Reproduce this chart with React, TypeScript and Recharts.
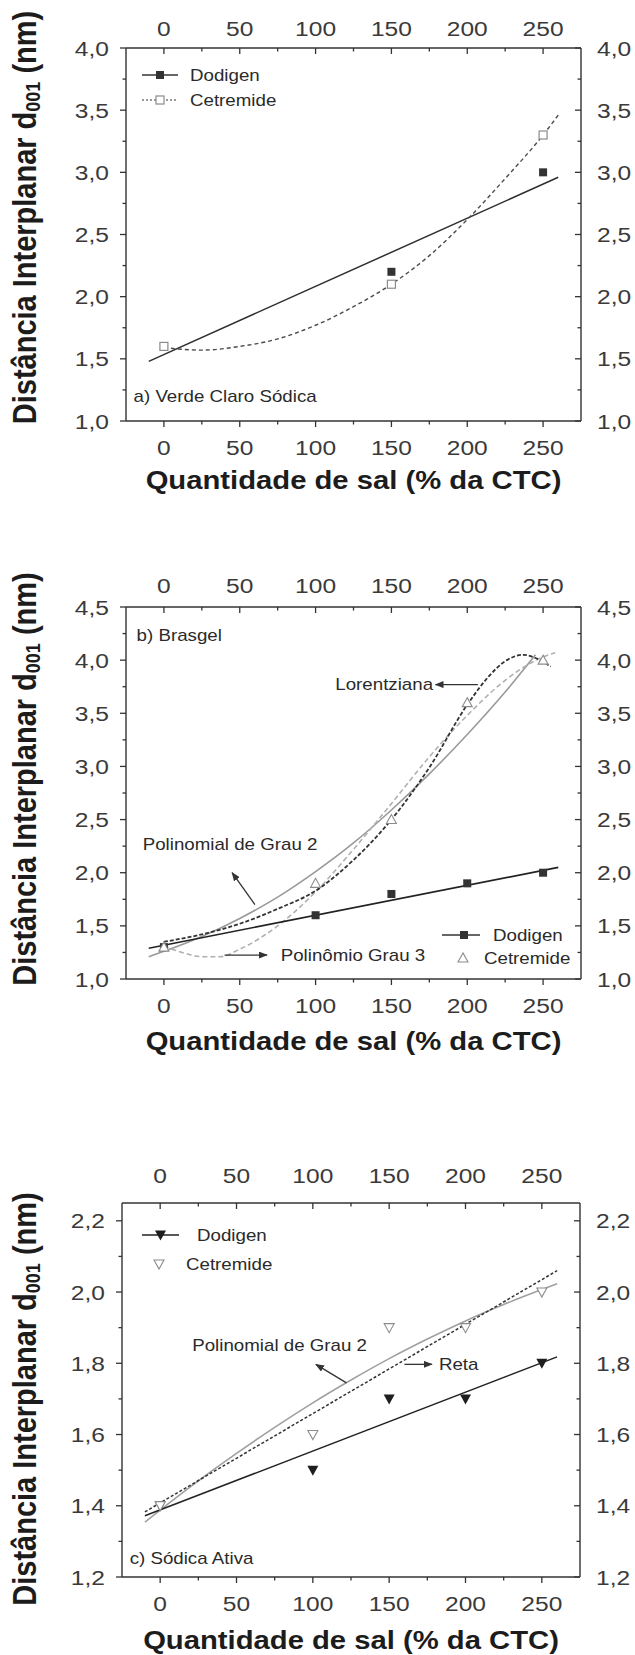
import React from 'react';
import { ComposedChart, Line, Scatter, XAxis, YAxis, Legend } from 'recharts';

const FONT = '"Liberation Sans", Arial, Helvetica, sans-serif';
const SX = 1.17; // the scan is a little stretched sideways, so is the text
const AXIS = '#333333';
const TICK_TEXT = '#3a3a3a';
const TITLE = '#1c1c1c';

// shared axes
const xTicks = [0, 25, 50, 75, 100, 125, 150, 175, 200, 225, 250];
const yTicksA = [1, 1.25, 1.5, 1.75, 2, 2.25, 2.5, 2.75, 3, 3.25, 3.5, 3.75, 4];
const yTicksB = [1, 1.25, 1.5, 1.75, 2, 2.25, 2.5, 2.75, 3, 3.25, 3.5, 3.75, 4, 4.25, 4.5];
const yTicksC = [1.2, 1.3, 1.4, 1.5, 1.6, 1.7, 1.8, 1.9, 2.0, 2.1, 2.2];

// a) Verde Claro Sódica
const saltA = [0, 150, 250];
const dodigenA = [1.6, 2.2, 3.0];
const cetremideA = [1.6, 2.1, 3.3];
const dodigenFitAx = [-10, 260];
const dodigenFitAy = [1.48, 2.96];
const cetremideFitAx = [0, 25, 50, 75, 100, 125, 150, 175, 200, 225, 250, 260];
const cetremideFitAy = [1.59, 1.57, 1.6, 1.66, 1.77, 1.92, 2.1, 2.33, 2.62, 2.95, 3.3, 3.46];
const notesAx = [-20];
const notesAy = [1.2];
const notesAtext = ['a) Verde Claro Sódica'];

// b) Brasgel
const saltB = [0, 100, 150, 200, 250];
const dodigenB = [1.3, 1.6, 1.8, 1.9, 2.0];
const cetremideB = [1.3, 1.9, 2.5, 3.6, 4.0];
const dodigenFitBx = [-10, 260];
const dodigenFitBy = [1.29, 2.05];
const poly2Bx = [-10, 0, 25, 50, 75, 100, 125, 150, 175, 200, 225, 245];
const poly2By = [1.21, 1.26, 1.4, 1.57, 1.77, 2.01, 2.28, 2.59, 2.93, 3.3, 3.7, 4.05];
const poly3Bx = [0, 12, 25, 37, 50, 75, 100, 125, 150, 175, 200, 225, 250, 258];
const poly3By = [1.31, 1.25, 1.21, 1.21, 1.28, 1.5, 1.82, 2.22, 2.65, 3.09, 3.48, 3.81, 4.03, 4.07];
const lorentzBx = [0, 25, 50, 75, 100, 125, 150, 175, 200, 215, 225, 237, 245, 255];
const lorentzBy = [1.35, 1.42, 1.52, 1.66, 1.83, 2.12, 2.5, 2.99, 3.58, 3.86, 3.99, 4.05, 4.02, 3.94];
const notesBx = [-18, 113, -14, 77];
const notesBy = [4.23, 3.77, 2.27, 1.225];
const notesBtext = ['b) Brasgel', 'Lorentziana', 'Polinomial de Grau 2', 'Polinômio Grau 3'];
const arrowLorentzX = [207, 179];
const arrowLorentzY = [3.77, 3.77];
const arrowPoly2Bx = [60, 45];
const arrowPoly2By = [1.7, 2.0];
const arrowPoly3Bx = [40, 68];
const arrowPoly3By = [1.225, 1.225];

// c) Sódica Ativa
const saltC = [0, 100, 150, 200, 250];
const dodigenC = [1.4, 1.5, 1.7, 1.7, 1.8];
const cetremideC = [1.4, 1.6, 1.9, 1.9, 2.0];
const dodigenFitCx = [-10, 260];
const dodigenFitCy = [1.372, 1.818];
const retaCx = [-10, 260];
const retaCy = [1.383, 2.06];
const poly2Cx = [-10, 0, 25, 50, 75, 100, 125, 150, 175, 200, 225, 250, 260];
const poly2Cy = [1.354, 1.388, 1.47, 1.547, 1.62, 1.689, 1.753, 1.813, 1.868, 1.919, 1.965, 2.007, 2.023];
const notesCx = [-20, 21, 182.6];
const notesCy = [1.2525, 1.852, 1.797];
const notesCtext = ['c) Sódica Ativa', 'Polinomial de Grau 2', 'Reta'];
const arrowPoly2Cx = [122, 102];
const arrowPoly2Cy = [1.745, 1.797];
const arrowRetaX = [160, 178];
const arrowRetaY = [1.797, 1.797];

const pts = (xs: number[], ys: number[]) => xs.map((x, i) => ({ x, y: ys[i] }));
const notes = (xs: number[], ys: number[], t: string[]) => xs.map((x, i) => ({ x, y: ys[i], text: t[i] }));

const isMajor = (v: number, step: number) => Math.abs(v / step - Math.round(v / step)) < 1e-6;
const fmt = (v: number) => v.toFixed(1).replace('.', ',');

function SText({ x, y, size, anchor = 'start', weight = 'normal', fill = TICK_TEXT, children }: any) {
  return (
    <text
      transform={`translate(${x},${y}) scale(${SX},1)`}
      textAnchor={anchor}
      fontSize={size}
      fontWeight={weight}
      fontFamily={FONT}
      fill={fill}
    >
      {children}
    </text>
  );
}

function marker(kind: string, cx: number, cy: number) {
  switch (kind) {
    case 'sq':
      return <rect x={cx - 4} y={cy - 4} width={8} height={8} fill="#333" />;
    case 'osq':
      return <rect x={cx - 4} y={cy - 4} width={8} height={8} fill="#fff" stroke="#8c8c8c" strokeWidth={1.2} />;
    case 'otri':
      return <polygon points={`${cx},${cy - 5} ${cx - 5},${cy + 4} ${cx + 5},${cy + 4}`} fill="#fff" stroke="#8c8c8c" strokeWidth={1.1} />;
    case 'dtri':
      return <polygon points={`${cx - 5.5},${cy - 4.5} ${cx + 5.5},${cy - 4.5} ${cx},${cy + 5.5}`} fill="#1e1e1e" />;
    case 'odtri':
      return <polygon points={`${cx - 5},${cy - 4} ${cx + 5},${cy - 4} ${cx},${cy + 5}`} fill="#fff" stroke="#8c8c8c" strokeWidth={1.1} />;
    default:
      return null;
  }
}

const mk = (kind: string) => (p: any) => marker(kind, p.cx, p.cy);
const noteShape = (p: any) => (
  <SText x={p.cx} y={p.cy + 5.8} size={16} fill="#2a2a2a">{p.payload.text}</SText>
);

// ticks: bottom/left point out, top/right point in (Origin style)
const bottomTick = (p: any) => {
  const major = isMajor(p.payload.value, 50);
  return (
    <g>
      <line x1={p.x} x2={p.x} y1={p.y} y2={p.y + (major ? 6 : 3.5)} stroke={AXIS} strokeWidth={1.3} />
      {major && <SText x={p.x} y={p.y + 33.5} size={21} anchor="middle">{p.payload.value}</SText>}
    </g>
  );
};
const topTick = (gap: number) => (p: any) => {
  const major = isMajor(p.payload.value, 50);
  return (
    <g>
      <line x1={p.x} x2={p.x} y1={p.y} y2={p.y + (major ? 6 : 3.5)} stroke={AXIS} strokeWidth={1.3} />
      {major && <SText x={p.x} y={p.y - gap} size={21} anchor="middle">{p.payload.value}</SText>}
    </g>
  );
};
const leftTick = (step: number) => (p: any) => {
  const major = isMajor(p.payload.value, step);
  return (
    <g>
      <line x1={p.x - (major ? 6 : 3.5)} x2={p.x} y1={p.y} y2={p.y} stroke={AXIS} strokeWidth={1.3} />
      {major && <SText x={p.x - 17} y={p.y + 7.5} size={21} anchor="end">{fmt(p.payload.value)}</SText>}
    </g>
  );
};
const rightTick = (step: number) => (p: any) => {
  const major = isMajor(p.payload.value, step);
  return (
    <g>
      <line x1={p.x - (major ? 6 : 3.5)} x2={p.x} y1={p.y} y2={p.y} stroke={AXIS} strokeWidth={1.3} />
      {major && <SText x={p.x + 16} y={p.y + 7.5} size={21}>{fmt(p.payload.value)}</SText>}
    </g>
  );
};

type Row = { y: number; x1: number; x2: number; mx: number; tx: number; text: string; marker: string; dash?: string; stroke?: string };

const rowsA: Row[] = [
  { y: 75, x1: 142, x2: 178, mx: 160, tx: 190, text: 'Dodigen', marker: 'sq', stroke: '#333' },
  { y: 100, x1: 142, x2: 178, mx: 160, tx: 190, text: 'Cetremide', marker: 'osq', dash: '2 2', stroke: '#777' },
];
const rowsB: Row[] = [
  { y: 395, x1: 442, x2: 480, mx: 464, tx: 493, text: 'Dodigen', marker: 'sq', stroke: '#333' },
  { y: 418, x1: 0, x2: 0, mx: 463, tx: 484, text: 'Cetremide', marker: 'otri' },
];
const rowsC: Row[] = [
  { y: 135, x1: 142, x2: 179, mx: 160.5, tx: 197, text: 'Dodigen', marker: 'dtri', stroke: '#222' },
  { y: 164, x1: 0, x2: 0, mx: 159, tx: 186, text: 'Cetremide', marker: 'odtri' },
];

const legendLayer = (rows: Row[], h: number) => () => (
  <svg width={635} height={h} style={{ display: 'block' }}>
    {rows.map((r) => (
      <g key={r.text}>
        {r.x2 > r.x1 && (
          <line x1={r.x1} x2={r.x2} y1={r.y} y2={r.y} stroke={r.stroke} strokeWidth={1.4} strokeDasharray={r.dash} />
        )}
        {marker(r.marker, r.mx, r.y)}
        <SText x={r.tx} y={r.y + 5.8} size={16} fill="#2a2a2a">{r.text}</SText>
      </g>
    ))}
  </svg>
);

function Panel(props: any) {
  const { top, height, left, right, plotTop, plotBottom, yDomain, yTicks, yStep, topGap, titleShift, xTitleDrop, rows, children } = props;
  const margin = { top: plotTop - 30, bottom: height - plotBottom - 30, left: left - 60, right: 635 - right - 50 };
  const axisLine = { stroke: AXIS, strokeWidth: 1.4 };
  const cx = (left + right) / 2;
  const cy = (plotTop + plotBottom) / 2 + titleShift;

  const xTitle = () => (
    <SText x={cx} y={plotBottom + xTitleDrop} size={25} weight="bold" anchor="middle" fill={TITLE}>
      Quantidade de sal (% da CTC)
    </SText>
  );
  const yTitle = () => (
    <text
      transform={`translate(24,${cy}) rotate(-90) scale(1,${SX})`}
      textAnchor="middle"
      dominantBaseline="central"
      fontFamily={FONT}
      fontWeight="bold"
      fontSize={29}
      fill={TITLE}
    >
      Distância Interplanar d<tspan dy={7} fontSize={18}>001</tspan>
      <tspan dy={-7}> (nm)</tspan>
    </text>
  );

  return (
    <div style={{ position: 'absolute', left: 0, top, width: 635, height }}>
      <ComposedChart width={635} height={height} margin={margin}>
        <XAxis
          type="number" dataKey="x" domain={[-25, 275]} ticks={xTicks} interval={0} allowDataOverflow
          height={30} tickSize={0} tickMargin={0} tickLine={false} axisLine={axisLine} tick={bottomTick} label={xTitle}
        />
        <XAxis
          xAxisId="top" orientation="top" type="number" dataKey="x" domain={[-25, 275]} ticks={xTicks} interval={0} allowDataOverflow
          height={30} tickSize={0} tickMargin={0} tickLine={false} axisLine={axisLine} tick={topTick(topGap)}
        />
        <YAxis
          type="number" dataKey="y" domain={yDomain} ticks={yTicks} interval={0} allowDataOverflow
          width={60} tickSize={0} tickMargin={0} tickLine={false} axisLine={axisLine} tick={leftTick(yStep)} label={yTitle}
        />
        <YAxis
          yAxisId="right" orientation="right" type="number" dataKey="y" domain={yDomain} ticks={yTicks} interval={0} allowDataOverflow
          width={50} tickSize={0} tickMargin={0} tickLine={false} axisLine={axisLine} tick={rightTick(yStep)}
        />
        {children}
        <Legend
          layout="vertical" align="center" verticalAlign="middle"
          wrapperStyle={{ left: 0, top: 0, width: 635, height, pointerEvents: 'none' }}
          content={legendLayer(rows, height)}
        />
      </ComposedChart>
    </div>
  );
}

const fitLine = (key: string, data: any[], stroke: string, width: number, dash?: string, curve = 'linear') => (
  <Line
    key={key} data={data} dataKey="y" type={curve as any} stroke={stroke} strokeWidth={width} strokeDasharray={dash}
    dot={false} activeDot={false} isAnimationActive={false} legendType="none"
  />
);
const arrow = (key: string, data: any[]) => (
  <Line
    key={key} data={data} dataKey="y" type="linear" stroke="#333" strokeWidth={1.3} markerEnd="url(#arrowHead)"
    dot={false} activeDot={false} isAnimationActive={false} legendType="none"
  />
);
const dots = (key: string, data: any[], kind: string) => (
  <Scatter key={key} data={data} dataKey="y" shape={mk(kind)} isAnimationActive={false} legendType="none" />
);
const texts = (key: string, data: any[]) => (
  <Scatter key={key} data={data} dataKey="y" shape={noteShape} isAnimationActive={false} legendType="none" />
);

export default function App() {
  return (
    <div style={{ position: 'absolute', left: 0, top: 0, width: 635, height: 1655, background: '#fff', overflow: 'hidden' }}>
      <svg width={0} height={0} style={{ position: 'absolute' }}>
        <defs>
          <marker
            id="arrowHead" viewBox="0 0 10 10" refX={9} refY={5} markerWidth={9} markerHeight={7}
            markerUnits="userSpaceOnUse" orient="auto" preserveAspectRatio="none"
          >
            <path d="M0,0 L10,5 L0,10 Z" fill="#333" />
          </marker>
        </defs>
      </svg>

      <Panel
        top={0} height={540} left={126} right={581} plotTop={48} plotBottom={421}
        yDomain={[1, 4]} yTicks={yTicksA} yStep={0.5} topGap={12} titleShift={-17} xTitleDrop={68} rows={rowsA}
      >
        {[
          fitLine('fitDA', pts(dodigenFitAx, dodigenFitAy), '#2f2f2f', 1.5),
          fitLine('fitCA', pts(cetremideFitAx, cetremideFitAy), '#4a4a4a', 1.4, '4 3', 'monotone'),
          dots('dA', pts(saltA, dodigenA), 'sq'),
          dots('cA', pts(saltA, cetremideA), 'osq'),
          texts('nA', notes(notesAx, notesAy, notesAtext)),
        ]}
      </Panel>

      <Panel
        top={540} height={560} left={126} right={581} plotTop={67} plotBottom={439}
        yDomain={[1, 4.5]} yTicks={yTicksB} yStep={0.5} topGap={14.5} titleShift={-14} xTitleDrop={71} rows={rowsB}
      >
        {[
          fitLine('p2B', pts(poly2Bx, poly2By), '#9a9a9a', 1.6, undefined, 'monotone'),
          fitLine('p3B', pts(poly3Bx, poly3By), '#b0b0b0', 1.6, '5 3', 'monotone'),
          fitLine('lzB', pts(lorentzBx, lorentzBy), '#333', 1.8, '4 2', 'monotone'),
          fitLine('fitDB', pts(dodigenFitBx, dodigenFitBy), '#222', 1.6),
          arrow('aLz', pts(arrowLorentzX, arrowLorentzY)),
          arrow('aP2B', pts(arrowPoly2Bx, arrowPoly2By)),
          arrow('aP3B', pts(arrowPoly3Bx, arrowPoly3By)),
          dots('dB', pts(saltB, dodigenB), 'sq'),
          dots('cB', pts(saltB, cetremideB), 'otri'),
          texts('nB', notes(notesBx, notesBy, notesBtext)),
        ]}
      </Panel>

      <Panel
        top={1100} height={555} left={122} right={580} plotTop={103} plotBottom={477}
        yDomain={[1.2, 2.25]} yTicks={yTicksC} yStep={0.2} topGap={20.5} titleShift={9} xTitleDrop={72} rows={rowsC}
      >
        {[
          fitLine('p2C', pts(poly2Cx, poly2Cy), '#a0a0a0', 1.6, undefined, 'monotone'),
          fitLine('rtC', pts(retaCx, retaCy), '#333', 1.5, '3 2'),
          fitLine('fitDC', pts(dodigenFitCx, dodigenFitCy), '#222', 1.5),
          arrow('aP2C', pts(arrowPoly2Cx, arrowPoly2Cy)),
          arrow('aRt', pts(arrowRetaX, arrowRetaY)),
          dots('dC', pts(saltC, dodigenC), 'dtri'),
          dots('cC', pts(saltC, cetremideC), 'odtri'),
          texts('nC', notes(notesCx, notesCy, notesCtext)),
        ]}
      </Panel>
    </div>
  );
}
